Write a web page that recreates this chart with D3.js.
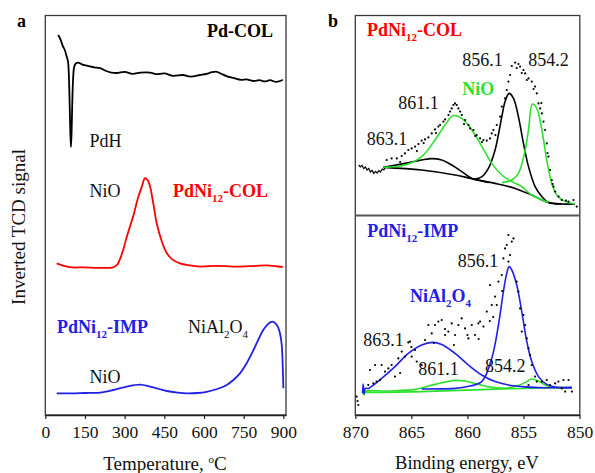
<!DOCTYPE html>
<html>
<head>
<meta charset="utf-8">
<script src="https://cdn.jsdelivr.net/npm/d3@7"></script>
<style>
  body { margin: 0; background: #fff; }
  text { font-family: "Liberation Serif", "Times New Roman", serif; }
</style>
</head>
<body>
<div id="plot"></div>
<script>
// panel a: TPR curves, [temperature, signal a.u.]
const pdCol = [[49,95],[58,93.8],[66,92.3],[74,91.2],[80,89.8],[86,88.3],[89,85],[92,78],[94.5,71],[97,67],[99.5,71],[102,78],[105,84],[109,87],[114,87.8],[124,88.1],[140,87.6],[160,87.3],[185,86.9],[207,86.7],[230,86],[250,85.6],[271,85.5],[300,85.8],[330,85.3],[360,85.6],[396,85.6],[420,85.2],[450,85.4],[483,84.8],[520,85],[550,84.6],[585,85],[610,85.3],[630,85.7],[649,85.8],[665,85.3],[690,84.6],[710,84.3],[740,83.8],[760,83.9],[786,83.5],[810,83.7],[830,83.4],[850,83.7],[870,83.3],[888,83.5],[898,83.8]];
const pdNiCol = [[43,37.9],[70,37.3],[100,36.9],[144,36.9],[200,36.8],[256,36.9],[272,37.6],[285,39.4],[294,41.2],[310,45],[332,49.6],[350,54.2],[365,57.1],[377,59.2],[388,58.6],[396,57.1],[408,53],[421,48],[440,43.5],[459,40.5],[480,38.9],[509,37.9],[545,37.4],[585,37.1],[650,37.3],[710,37.1],[770,37.2],[838,37.4],[870,37.2],[898,37]];
const pdNiImp = [[43,5.4],[100,5.4],[150,5.5],[207,5.6],[257,6.25],[308,7.1],[358,7.6],[396,7.1],[430,6.5],[459,6],[500,5.6],[535,5.4],[575,5.5],[610,5.8],[650,6.5],[686,7.5],[710,8.7],[736,10.4],[760,12.8],[787,16.25],[805,18.8],[824,21.25],[840,22.6],[852,23.2],[862,23.3],[872,22.8],[881,21.8],[888,20.2],[894,17.5],[898,11.5],[900,6.7]];
const tempTicks = [0, 150, 300, 450, 600, 750, 900];

// panel b top: PdNi12-COL XPS, [binding energy, intensity a.u.]
const colRaw = [[869.7,25],[869.55,24],[869.4,24.8],[869.25,23.2],[869.1,24],[868.95,22.5],[868.8,23.3],[868.65,21.5],[868.5,22.3],[868.35,20.8],[868.2,21.8],[868.05,21],[867.9,22.2],[867.75,21.5],[867.6,23],[867.45,22.5],[867.3,24]];
const colDots = [[867.2,27.5],[866.76,28.3],[866.3,28.3],[866.0,26.5],[865.86,29.5],[865.57,30.8],[865.27,32.5],[864.97,33.3],[864.67,34.2],[864.5,32],[864.37,35.5],[864.08,37.2],[863.9,36],[863.78,37.8],[863.48,38.8],[863.18,40.8],[862.89,42.8],[862.8,41],[862.59,44.2],[862.44,45],[862.14,46.7],[861.99,47.8],[861.69,50],[861.55,51.7],[861.4,53.3],[861.25,55],[861.1,55.8],[860.95,55],[860.8,53.3],[860.65,51.7],[860.5,50],[860.3,45.5],[860.2,47.5],[859.9,45],[859.76,43.3],[859.46,42.5],[859.3,39.5],[859.17,40],[858.87,38.3],[858.7,36.5],[858.57,37.5],[858.27,37.2],[857.98,38.3],[857.83,40.8],[857.68,42.5],[857.5,40],[857.38,45],[857.08,49.2],[856.93,54.2],[856.64,58.3],[856.49,62.5],[856.34,66.7],[856.19,70],[856.04,74.5],[855.74,76.2],[855.6,73.5],[855.45,75.5],[855.3,74.2],[855.15,71],[855.0,72.5],[854.85,70.8],[854.7,67.5],[854.55,68.3],[854.26,66.7],[854.1,63],[853.96,64.2],[853.81,60.8],[853.66,55.8],[853.51,53.3],[853.4,56],[853.36,50.8],[853.21,46.7],[853.07,42.5],[852.92,35.8],[852.85,31],[852.77,29.2],[852.62,22.5],[852.47,17.5],[852.4,15.5],[852.32,14.2],[852.17,11.7],[851.87,9.2],[851.58,7.5],[851.2,7.2],[850.98,6.7],[850.54,7.5],[850.24,4.2]];
const colBg = [[867.5,23.8],[864.08,22.5],[861.1,20],[859.32,17.8],[857.53,15.8],[855.74,13.3],[854.26,10],[852.77,6.2],[851.58,5.5],[850.39,5.5]];
const col8631 = [[867.5,23.8],[865.57,25.8],[864.08,27.5],[863.18,28.2],[862.29,27.5],[861.4,25],[860.5,21.7],[859.6,18.3],[858.7,17],[858.1,16.3]];
const col8561 = [[859.46,17.8],[858.7,19.2],[858.13,23.3],[857.53,32.5],[856.93,49.2],[856.64,56.7],[856.28,60.8],[855.89,58.3],[855.45,49.2],[855.0,35.8],[854.55,24.2],[853.96,14.2],[853.36,9.2],[852.77,6.2],[851.58,5.5]];
const col8611 = [[867.5,23.8],[865.57,25],[864.08,29.2],[862.89,37.5],[861.99,45],[861.25,49.7],[860.5,48.3],[859.6,42.5],[858.7,34.2],[857.83,25.8],[856.93,20],[856.04,16.7],[855.15,14.2],[854.26,10],[852.77,6.2]];
const col8542 = [[856.93,16.2],[856.04,17.5],[855.45,20.8],[854.85,32.5],[854.55,42.5],[854.2,55.5],[853.81,53.3],[853.36,42.5],[852.92,27.5],[852.47,15.8],[852.02,10],[851.43,7.2],[850.39,5.5]];

// panel b bottom: PdNi12-IMP XPS
const impDots = [[869.88,9.2],[869.73,5],[869.8,7],[868.84,15],[868.39,15.8],[868.1,16.7],[867.8,17.5],[868.69,22.5],[868.24,25],[867.65,25],[867.35,21.7],[867.05,23.3],[866.76,25],[866.46,19.2],[866.16,28.3],[866.0,21],[865.86,31.7],[865.57,29.2],[865.27,36.3],[865.12,36.7],[865.0,34],[864.97,29.2],[864.67,32.5],[864.52,26.7],[864.08,25],[863.78,37.5],[863.48,45],[863.18,40.8],[863.0,36],[862.89,45],[862.59,46.7],[862.29,47.5],[862.0,43],[861.99,40],[861.7,41.7],[861.4,45.8],[861.2,35],[861.1,40],[860.8,45],[860.51,48.3],[860.21,43.3],[860.0,40],[859.91,38.3],[859.61,45],[859.32,40],[859.02,45.8],[859.0,38],[858.87,46.7],[858.57,44.2],[858.27,51.7],[858.0,47],[857.98,65],[857.83,55],[857.7,49],[857.53,59.2],[857.38,55],[857.23,66.7],[856.93,70],[856.9,62],[856.79,78.3],[856.64,83.3],[856.49,85],[856.34,90],[856.04,86.7],[855.89,88.3],[856.19,80],[856.34,76.7],[855.6,66.7],[855.45,61.7],[855.3,53.3],[855.15,41.7],[855.0,50],[854.85,45],[854.7,38.3],[854.55,33.3],[854.55,15],[854.4,30],[854.26,25],[853.96,19.2],[853.81,16.7],[853.36,16.7],[852.92,17.5],[852.62,15],[852.17,15.8],[851.88,16.7],[851.58,13.3],[851.43,17.5],[851.28,11.7],[850.98,17.5],[850.68,11.7]];
const imp8561 = [[864.08,13],[861.1,13.3],[860.21,14],[858.72,16.7],[857.83,28.3],[857.23,45],[856.79,61.7],[856.49,70.8],[856.28,74.2],[856.04,72.5],[855.6,65],[855.15,51.7],[854.7,36.7],[854.26,26.7],[853.66,19.2],[852.92,15.3],[852.17,14],[850.68,13.7]];
const imp8631 = [[869.35,11],[869.3,15.5],[869.22,10.5],[869.1,13.3],[868.84,13.3],[867.65,18.3],[866.46,24.2],[865.27,30.8],[864.08,35],[863.13,36.3],[862.29,35.3],[861.1,30.8],[859.91,25],[858.72,20],[857.53,16.7],[856.34,15],[855.15,14.2],[853.66,13.7],[850.68,13.7]];
const impBg = [[869.29,11.3],[864.08,11.7],[858.13,12.8],[852.17,13.7],[850.68,13.7]];
const imp8611 = [[869.35,10.5],[869.3,14],[869.22,10],[869.1,11.7],[867.05,12],[864.67,12.8],[862.89,15.3],[861.1,17.3],[860.21,17],[859.02,15.3],[857.83,13.8],[856.64,13.3]];
const imp8542 = [[856.64,13.3],[855.45,14.7],[854.7,16.7],[854.26,18],[853.66,17],[853.07,15],[852.17,13.7],[850.68,13.7]];
const beTicks = [870, 865, 860, 855, 850];

const w = 595, h = 473;
const red = "#ff0000", blue = "#2020e6", green = "#2ee02e";

const svg = d3.select("div#plot")
  .append("svg")
    .attr("width", w)
    .attr("height", h);

svg.append("rect")
  .attr("width", w)
  .attr("height", h)
  .attr("fill", "#fff");

// scales
const xT = d3.scaleLinear().domain([0, 910]).range([45.3, 286]);
const yL = d3.scaleLinear().domain([0, 100]).range([415, 15]);
const xB = d3.scaleLinear().domain([870, 850]).range([355.3, 579.5]);
const yTop = d3.scaleLinear().domain([0, 100]).range([215, 15]);
const yBot = d3.scaleLinear().domain([0, 100]).range([415, 215]);

// frames
svg.append("rect")
  .attr("x", 45.3).attr("y", 15.5)
  .attr("width", 240.7).attr("height", 399.5)
  .attr("fill", "none").attr("stroke", "#3a3a3a").attr("stroke-width", 1.3);

svg.append("rect")
  .attr("x", 355.3).attr("y", 15.5)
  .attr("width", 224.5).attr("height", 399.5)
  .attr("fill", "none").attr("stroke", "#3a3a3a").attr("stroke-width", 1.3);

svg.append("line")
  .attr("x1", 355.3).attr("x2", 579.8)
  .attr("y1", yTop(0) + 0.5).attr("y2", yTop(0) + 0.5)
  .attr("stroke", "#555").attr("stroke-width", 2.2);

// axes
const xAxisL = d3.axisBottom(xT)
  .tickValues(tempTicks)
  .tickSize(4)
  .tickSizeOuter(0)
  .tickPadding(7);

svg.append("g")
  .attr("transform", "translate(0, 415)")
  .call(xAxisL);

const xAxisR = d3.axisBottom(xB)
  .tickValues(beTicks)
  .tickSize(4)
  .tickSizeOuter(0)
  .tickPadding(7);

svg.append("g")
  .attr("transform", "translate(0, 415)")
  .call(xAxisR);

svg.selectAll(".tick text")
  .style("font-family", '"Liberation Serif", serif')
  .style("font-size", "17.5px")
  .attr("fill", "#111");
svg.selectAll(".domain").attr("stroke", "#222").attr("stroke-width", 1.3);
svg.selectAll(".tick line").attr("stroke", "#222").attr("stroke-width", 1.2);

// curves panel a
const lineT = d3.line()
  .x(d => xT(d[0]))
  .y(d => yL(d[1]))
  .curve(d3.curveCatmullRom);

svg.append("path").datum(pdCol)
  .attr("d", lineT).attr("fill", "none").attr("stroke", "#000").attr("stroke-width", 1.8);
svg.append("path").datum(pdNiCol)
  .attr("d", lineT).attr("fill", "none").attr("stroke", red).attr("stroke-width", 1.8);
svg.append("path").datum(pdNiImp)
  .attr("d", lineT).attr("fill", "none").attr("stroke", blue).attr("stroke-width", 1.8);

// curves panel b
const lineTop = d3.line().x(d => xB(d[0])).y(d => yTop(d[1])).curve(d3.curveCatmullRom);
const lineBot = d3.line().x(d => xB(d[0])).y(d => yBot(d[1])).curve(d3.curveCatmullRom);

svg.append("path").datum(colRaw)
  .attr("d", d3.line().x(d => xB(d[0])).y(d => yTop(d[1])))
  .attr("fill", "none").attr("stroke", "#000").attr("stroke-width", 1.2);

[[colBg, "#000"], [col8631, "#000"], [col8561, "#000"], [col8611, green], [col8542, green]]
  .forEach(([data, c]) => {
    svg.append("path").datum(data)
      .attr("d", lineTop).attr("fill", "none").attr("stroke", c).attr("stroke-width", 1.6);
  });

svg.append("g")
  .selectAll("circle")
  .data(colDots)
  .enter()
  .append("circle")
    .attr("cx", d => xB(d[0]))
    .attr("cy", d => yTop(d[1]))
    .attr("r", 1.1)
    .attr("fill", "#000");

[[impBg, green], [imp8611, green], [imp8542, green], [imp8631, blue], [imp8561, blue]]
  .forEach(([data, c]) => {
    svg.append("path").datum(data)
      .attr("d", lineBot).attr("fill", "none").attr("stroke", c).attr("stroke-width", 1.6);
  });

svg.append("g")
  .selectAll("circle")
  .data(impDots)
  .enter()
  .append("circle")
    .attr("cx", d => xB(d[0]))
    .attr("cy", d => yBot(d[1]))
    .attr("r", 1.1)
    .attr("fill", "#000");

// labels with optional subscripts: parts = [[text, sub?], ...]
function label(x, y, parts, opts) {
  const t = svg.append("text")
    .attr("x", x).attr("y", y)
    .attr("fill", opts.color || "#111")
    .attr("font-weight", opts.bold ? "bold" : "normal")
    .style("font-size", (opts.size || 18) + "px")
    .attr("text-anchor", opts.anchor || "start");
  let low = false;
  parts.forEach(([s, sub]) => {
    const ts = t.append("tspan").text(s);
    if (sub && !low) { ts.attr("dy", 5).style("font-size", "11px"); low = true; }
    else if (!sub && low) { ts.attr("dy", -5); low = false; }
  });
  return t;
}

// panel letters
label(17, 27, [["a"]], {bold: true, size: 18, color: "#000"});
label(328, 27, [["b"]], {bold: true, size: 18, color: "#000"});

// panel a labels
label(273, 37, [["Pd-COL"]], {bold: true, size: 18, anchor: "end", color: "#000"});
label(89.5, 146.5, [["PdH"]], {});
label(89.5, 196.5, [["NiO"]], {});
label(173, 196.5, [["PdNi"], ["12", true], ["-COL"]], {bold: true, size: 18, color: red});
label(57, 333, [["PdNi"], ["12", true], ["-IMP"]], {bold: true, size: 18, color: blue});
label(188, 333, [["NiAl"], ["2", true], ["O"], ["4", true]], {});
label(89.5, 383, [["NiO"]], {});

// panel b labels
label(367, 36, [["PdNi"], ["12", true], ["-COL"]], {bold: true, size: 18, color: red});
label(462.3, 66, [["856.1"]], {});
label(528.3, 66, [["854.2"]], {});
label(462.3, 95, [["NiO"]], {bold: true, size: 18, color: green});
label(398.3, 109.3, [["861.1"]], {});
label(366.7, 145, [["863.1"]], {});

label(367.3, 236.7, [["PdNi"], ["12", true], ["-IMP"]], {bold: true, size: 18, color: blue});
label(457.7, 266.7, [["856.1"]], {});
label(410, 302.3, [["NiAl"], ["2", true], ["O"], ["4", true]], {bold: true, size: 18, color: blue});
label(363.3, 345.7, [["863.1"]], {});
label(418.3, 375, [["861.1"]], {});
label(485, 372.3, [["854.2"]], {});

// axis titles
const xlab = svg.append("text")
  .attr("x", 165).attr("y", 470)
  .attr("text-anchor", "middle")
  .attr("fill", "#111")
  .style("font-size", "19px");
xlab.append("tspan").text("Temperature, ");
xlab.append("tspan").text("o").attr("dy", -7).style("font-size", "11px");
xlab.append("tspan").text("C").attr("dy", 7);

svg.append("text")
  .attr("x", 467).attr("y", 469)
  .attr("text-anchor", "middle")
  .attr("fill", "#111")
  .style("font-size", "18.5px")
  .text("Binding energy, eV");

svg.append("text")
  .attr("transform", "translate(25, 227) rotate(-90)")
  .attr("text-anchor", "middle")
  .attr("fill", "#111")
  .style("font-size", "19px")
  .text("Inverted TCD signal");
</script>
</body>
</html>
